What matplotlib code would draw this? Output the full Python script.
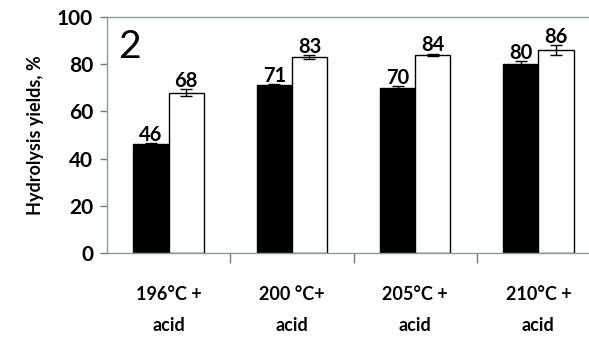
import matplotlib
matplotlib.use("Agg")
import matplotlib.pyplot as plt
import numpy as np

plt.rcParams['font.family'] = ['Lato', 'DejaVu Sans']

categories = ["196°C +\nacid", "200 °C+\nacid", "205°C +\nacid", "210°C +\nacid"]
black_vals = [46, 71, 70, 80]
black_err = [0.6, 0.6, 0.6, 1.5]
white_vals = [68, 83, 84, 86]
white_err = [1.5, 0.8, 0.5, 2.0]

fig = plt.figure(figsize=(5.89, 3.41), dpi=100)
# axes spans past the right edge of the canvas
ax = fig.add_axes([107/589, 1 - 253/341, 493/589, 236/341])

x = np.arange(len(categories))
w = 0.285
ekw = dict(elinewidth=1.0, capsize=4, capthick=1.0, ecolor='black')
ax.bar(x - w/2, black_vals, w, color='black', edgecolor='black', linewidth=1,
       yerr=black_err, error_kw=ekw, zorder=2)
ax.bar(x + w/2, white_vals, w, color='white', edgecolor='black', linewidth=1,
       yerr=white_err, error_kw=ekw, zorder=2)

for xi, v, e in zip(x - w/2, black_vals, black_err):
    ax.text(xi, v + e - 0.8, f"{v}", ha='center', va='bottom', fontsize=14.5,
            fontweight='bold', zorder=3)
for xi, v, e in zip(x + w/2, white_vals, white_err):
    ax.text(xi, v + e - 0.8, f"{v}", ha='center', va='bottom', fontsize=14.5,
            fontweight='bold', zorder=3)

ax.set_xlim(-0.5, len(categories) - 0.5)
ax.set_ylim(0, 100)
ax.set_yticks(range(0, 101, 20))
ax.set_xticks(x)
ax.set_xticklabels(categories, fontsize=13, fontweight='bold', linespacing=2.0)
ax.set_xticks(np.arange(0.5, len(categories) - 0.5, 1), minor=True)
ax.tick_params(axis='x', which='major', length=0, pad=24)
ax.tick_params(axis='x', which='minor', length=7, color='#777777', width=1)
ax.tick_params(axis='y', length=5, color='#777777', width=1, labelsize=15, pad=5)
for lbl in ax.get_yticklabels():
    lbl.set_fontweight('bold')

for side in ['left', 'bottom', 'top']:
    ax.spines[side].set_color('#8a9a9a')
    ax.spines[side].set_linewidth(1)
ax.spines['right'].set_visible(False)

ax.set_ylabel("Hydrolysis yields, %", fontsize=13, fontweight='bold', labelpad=9)
ax.text(0.022, 0.95, "2", transform=ax.transAxes, fontsize=28, va='top', ha='left')

fig.savefig("out.png", dpi=100)
